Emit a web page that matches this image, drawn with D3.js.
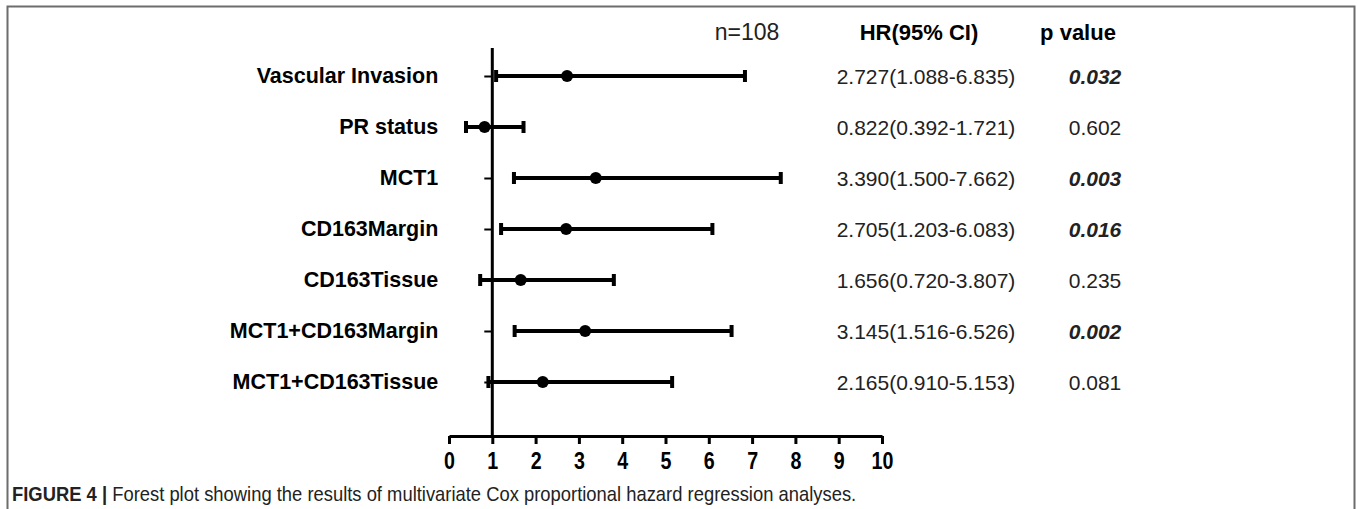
<!DOCTYPE html>
<html>
<head>
<meta charset="utf-8">
<script src="https://cdn.jsdelivr.net/npm/d3@7"></script>
<style>
  body { margin: 0; background: #fff; }
  svg { display: block; }
</style>
</head>
<body>
<div id="forest"></div>
<script>
// multivariate Cox results
var variables = ["Vascular Invasion", "PR status", "MCT1", "CD163Margin", "CD163Tissue", "MCT1+CD163Margin", "MCT1+CD163Tissue"];
var hr = [2.727, 0.822, 3.390, 2.705, 1.656, 3.145, 2.165];
var ciLow = [1.088, 0.392, 1.500, 1.203, 0.720, 1.516, 0.910];
var ciHigh = [6.835, 1.721, 7.662, 6.083, 3.807, 6.526, 5.153];
var pValues = ["0.032", "0.602", "0.003", "0.016", "0.235", "0.002", "0.081"];
var significant = [true, false, true, true, false, true, false];
var xTicks = [0, 1, 2, 3, 4, 5, 6, 7, 8, 9, 10];

var width = 1358, height = 509;
var font = "'Liberation Sans', Arial, sans-serif";

var svg = d3.select("#forest").append("svg")
    .attr("width", width)
    .attr("height", height);

// frame round the figure (no bottom edge)
svg.append("path")
    .attr("d", "M7.5,509 V6.5 H1354.5 V509")
    .style("fill", "none")
    .style("stroke", "#6d6d6d")
    .style("stroke-width", 2);

var x = d3.scaleLinear().domain([0, 10]).range([449, 882]);
var y = d3.scalePoint().domain(variables).range([76, 382]);
var axisY = 436;

var rows = variables.map(function(v, i) {
    return {name: v, hr: hr[i], lo: ciLow[i], hi: ciHigh[i], p: pValues[i], sig: significant[i]};
});

// x axis
var gx = svg.append("g")
    .attr("transform", "translate(0," + axisY + ")")
    .call(d3.axisBottom(x).tickValues(xTicks).tickSize(8).tickSizeOuter(0).tickPadding(8));
gx.select(".domain").style("stroke-width", 3);
gx.selectAll(".tick line").style("stroke-width", 3);
gx.selectAll(".tick text")
    .attr("transform", "scale(0.82,1)")
    .style("font-family", font)
    .style("font-size", "24px")
    .style("font-weight", "bold")
    .style("fill", "#000");

// y axis at HR = 1
var gy = svg.append("g")
    .attr("transform", "translate(" + x(1) + ",0)")
    .call(d3.axisLeft(y).tickSize(8).tickPadding(46));
gy.select(".domain").remove();
gy.selectAll(".tick line").style("stroke-width", 2);
gy.selectAll(".tick text")
    .style("font-family", font)
    .style("font-size", "21.5px")
    .style("font-weight", "bold")
    .style("fill", "#000");

svg.append("line")
    .attr("x1", x(1)).attr("x2", x(1))
    .attr("y1", 48).attr("y2", axisY)
    .style("stroke", "#000")
    .style("stroke-width", 3);

// error bars
var bars = svg.append("g").attr("class", "bars");
bars.selectAll("line.ci")
    .data(rows)
    .join("line")
    .attr("class", "ci")
    .attr("x1", function(d) { return x(d.lo); })
    .attr("x2", function(d) { return x(d.hi); })
    .attr("y1", function(d) { return y(d.name); })
    .attr("y2", function(d) { return y(d.name); })
    .style("stroke", "#000")
    .style("stroke-width", 4);

bars.selectAll("line.capLo")
    .data(rows)
    .join("line")
    .attr("class", "capLo")
    .attr("x1", function(d) { return x(d.lo); })
    .attr("x2", function(d) { return x(d.lo); })
    .attr("y1", function(d) { return y(d.name) - 6; })
    .attr("y2", function(d) { return y(d.name) + 6; })
    .style("stroke", "#000")
    .style("stroke-width", 4);

bars.selectAll("line.capHi")
    .data(rows)
    .join("line")
    .attr("class", "capHi")
    .attr("x1", function(d) { return x(d.hi); })
    .attr("x2", function(d) { return x(d.hi); })
    .attr("y1", function(d) { return y(d.name) - 6; })
    .attr("y2", function(d) { return y(d.name) + 6; })
    .style("stroke", "#000")
    .style("stroke-width", 4);

bars.selectAll("circle")
    .data(rows)
    .join("circle")
    .attr("cx", function(d) { return x(d.hr); })
    .attr("cy", function(d) { return y(d.name); })
    .attr("r", 6)
    .style("fill", "#000");

// text columns
svg.append("text")
    .attr("x", 747).attr("y", 40)
    .attr("text-anchor", "middle")
    .style("font-family", font).style("font-size", "23px")
    .style("fill", "#222")
    .text("n=108");
svg.append("text")
    .attr("x", 919).attr("y", 40)
    .attr("text-anchor", "middle")
    .style("font-family", font).style("font-size", "22px").style("font-weight", "bold")
    .text("HR(95% CI)");
svg.append("text")
    .attr("x", 1078).attr("y", 40)
    .attr("text-anchor", "middle")
    .style("font-family", font).style("font-size", "22px").style("font-weight", "bold")
    .text("p value");

svg.append("g").selectAll("text")
    .data(rows)
    .join("text")
    .attr("x", 926)
    .attr("y", function(d) { return y(d.name) + 8; })
    .attr("text-anchor", "middle")
    .style("font-family", font).style("font-size", "21px")
    .style("fill", "#222")
    .text(function(d) { return d3.format(".3f")(d.hr) + "(" + d3.format(".3f")(d.lo) + "-" + d3.format(".3f")(d.hi) + ")"; });

svg.append("g").selectAll("text")
    .data(rows)
    .join("text")
    .attr("x", 1095)
    .attr("y", function(d) { return y(d.name) + 8; })
    .attr("text-anchor", "middle")
    .style("font-family", font).style("font-size", "21px")
    .style("fill", "#222")
    .style("font-weight", function(d) { return d.sig ? "bold" : "normal"; })
    .style("font-style", function(d) { return d.sig ? "italic" : "normal"; })
    .text(function(d) { return d.p; });

// caption, condensed like the journal font
var cap = svg.append("text")
    .attr("transform", "translate(12,501) scale(0.92,1)")
    .style("font-family", font)
    .style("font-size", "20px")
    .style("fill", "#222");
cap.append("tspan").style("font-weight", "bold").text("FIGURE 4 |");
cap.append("tspan").text(" Forest plot showing the results of multivariate Cox proportional hazard regression analyses.");
</script>
</body>
</html>
